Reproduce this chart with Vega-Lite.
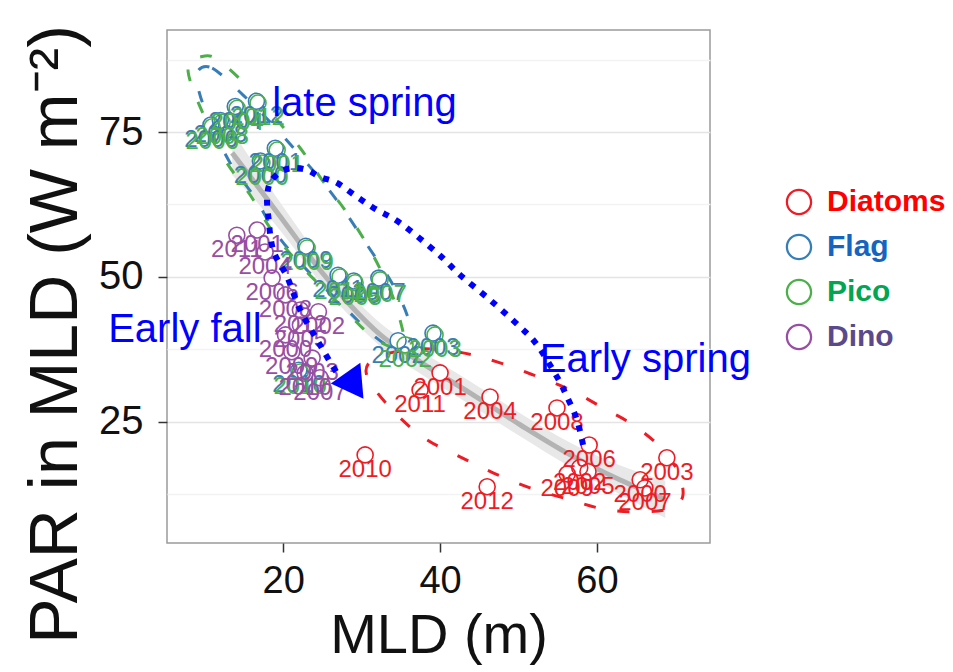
{
  "$schema": "https://vega.github.io/schema/vega-lite/v6.json",
  "autosize": {"type": "none"},
  "padding": {"left": 167, "top": 30, "right": 243, "bottom": 129},
  "width": 543,
  "height": 513,
  "background": "white",
  "config": {
    "view": {"stroke": "#9a9a9a", "strokeWidth": 1.5},
    "font": "Liberation Sans"
  },
  "datasets": {
    "pts": [
      {"group": "Diatoms", "year": "2010", "mld": 30.45, "par": 19.3},
      {"group": "Diatoms", "year": "2012", "mld": 46.0, "par": 13.8},
      {"group": "Diatoms", "year": "2001", "mld": 40.0, "par": 33.45},
      {"group": "Diatoms", "year": "2011", "mld": 37.45, "par": 30.5},
      {"group": "Diatoms", "year": "2004", "mld": 46.37, "par": 29.3},
      {"group": "Diatoms", "year": "2008", "mld": 54.9, "par": 27.4},
      {"group": "Diatoms", "year": "2006", "mld": 59.0, "par": 21.0},
      {"group": "Diatoms", "year": "2002", "mld": 57.8, "par": 17.1},
      {"group": "Diatoms", "year": "2009", "mld": 56.2, "par": 16.0},
      {"group": "Diatoms", "year": "2005", "mld": 58.85, "par": 16.4},
      {"group": "Diatoms", "year": "2003", "mld": 68.9, "par": 18.8},
      {"group": "Diatoms", "year": "2000", "mld": 65.5, "par": 15.0},
      {"group": "Diatoms", "year": "2007", "mld": 66.1, "par": 13.6},
      {"group": "Flag", "year": "2004", "mld": 13.9, "par": 79.4},
      {"group": "Flag", "year": "2008", "mld": 12.0, "par": 77.0},
      {"group": "Flag", "year": "2012", "mld": 16.6, "par": 80.3},
      {"group": "Flag", "year": "2006", "mld": 10.8, "par": 76.2},
      {"group": "Flag", "year": "2001", "mld": 19.0, "par": 72.2},
      {"group": "Flag", "year": "2000", "mld": 17.1, "par": 70.0},
      {"group": "Flag", "year": "2009", "mld": 22.9, "par": 55.3},
      {"group": "Flag", "year": "2011", "mld": 27.0, "par": 50.3},
      {"group": "Flag", "year": "2005", "mld": 29.0, "par": 49.3},
      {"group": "Flag", "year": "2007", "mld": 32.2, "par": 49.8},
      {"group": "Flag", "year": "2003", "mld": 39.1, "par": 40.3},
      {"group": "Flag", "year": "2002", "mld": 34.65, "par": 39.0},
      {"group": "Flag", "year": "2010", "mld": 22.0, "par": 33.9},
      {"group": "Pico", "year": "2004", "mld": 14.14, "par": 79.1},
      {"group": "Pico", "year": "2008", "mld": 12.23, "par": 76.7},
      {"group": "Pico", "year": "2012", "mld": 16.8, "par": 80.0},
      {"group": "Pico", "year": "2006", "mld": 10.96, "par": 75.9},
      {"group": "Pico", "year": "2001", "mld": 19.24, "par": 71.9},
      {"group": "Pico", "year": "2000", "mld": 17.3, "par": 69.66},
      {"group": "Pico", "year": "2009", "mld": 23.06, "par": 55.0},
      {"group": "Pico", "year": "2011", "mld": 27.26, "par": 50.0},
      {"group": "Pico", "year": "2005", "mld": 29.17, "par": 49.0},
      {"group": "Pico", "year": "2007", "mld": 32.36, "par": 49.5},
      {"group": "Pico", "year": "2003", "mld": 39.36, "par": 40.0},
      {"group": "Pico", "year": "2002", "mld": 35.54, "par": 38.28},
      {"group": "Pico", "year": "2010", "mld": 22.17, "par": 33.6},
      {"group": "Dino", "year": "2011", "mld": 14.1, "par": 57.2},
      {"group": "Dino", "year": "2001", "mld": 16.7, "par": 58.1},
      {"group": "Dino", "year": "2004", "mld": 17.7, "par": 54.3},
      {"group": "Dino", "year": "2006", "mld": 18.6, "par": 49.8},
      {"group": "Dino", "year": "2008", "mld": 20.3, "par": 46.9},
      {"group": "Dino", "year": "2012", "mld": 22.2, "par": 44.3},
      {"group": "Dino", "year": "2002", "mld": 24.5, "par": 44.0},
      {"group": "Dino", "year": "2005", "mld": 22.2, "par": 41.7},
      {"group": "Dino", "year": "2000", "mld": 20.3, "par": 40.0},
      {"group": "Dino", "year": "2009", "mld": 21.1, "par": 37.1},
      {"group": "Dino", "year": "2003", "mld": 23.7, "par": 36.0},
      {"group": "Dino", "year": "2010", "mld": 22.8, "par": 33.4},
      {"group": "Dino", "year": "2007", "mld": 24.7, "par": 32.6}
    ],
    "ell": [
      {"group": "Diatoms", "ord": 1, "mld": 33.63, "par": 36.9},
      {"group": "Diatoms", "ord": 2, "mld": 38.09, "par": 37.59},
      {"group": "Diatoms", "ord": 3, "mld": 42.93, "par": 36.9},
      {"group": "Diatoms", "ord": 4, "mld": 47.26, "par": 35.34},
      {"group": "Diatoms", "ord": 5, "mld": 51.85, "par": 33.1},
      {"group": "Diatoms", "ord": 6, "mld": 56.56, "par": 30.52},
      {"group": "Diatoms", "ord": 7, "mld": 60.76, "par": 27.41},
      {"group": "Diatoms", "ord": 8, "mld": 64.59, "par": 24.48},
      {"group": "Diatoms", "ord": 9, "mld": 68.03, "par": 20.69},
      {"group": "Diatoms", "ord": 10, "mld": 70.19, "par": 16.72},
      {"group": "Diatoms", "ord": 11, "mld": 70.96, "par": 12.41},
      {"group": "Diatoms", "ord": 12, "mld": 69.55, "par": 10.17},
      {"group": "Diatoms", "ord": 13, "mld": 66.11, "par": 9.48},
      {"group": "Diatoms", "ord": 14, "mld": 61.27, "par": 9.83},
      {"group": "Diatoms", "ord": 15, "mld": 56.56, "par": 11.55},
      {"group": "Diatoms", "ord": 16, "mld": 51.46, "par": 13.62},
      {"group": "Diatoms", "ord": 17, "mld": 46.75, "par": 16.21},
      {"group": "Diatoms", "ord": 18, "mld": 42.55, "par": 18.97},
      {"group": "Diatoms", "ord": 19, "mld": 38.34, "par": 21.9},
      {"group": "Diatoms", "ord": 20, "mld": 34.9, "par": 25.69},
      {"group": "Diatoms", "ord": 21, "mld": 31.72, "par": 30.52},
      {"group": "Diatoms", "ord": 22, "mld": 30.57, "par": 33.62},
      {"group": "Diatoms", "ord": 23, "mld": 31.34, "par": 35.69},
      {"group": "Flag", "ord": 1, "mld": 9.04, "par": 85.34},
      {"group": "Flag", "ord": 2, "mld": 10.96, "par": 86.03},
      {"group": "Flag", "ord": 3, "mld": 14.9, "par": 81.38},
      {"group": "Flag", "ord": 4, "mld": 18.34, "par": 76.72},
      {"group": "Flag", "ord": 5, "mld": 21.78, "par": 71.55},
      {"group": "Flag", "ord": 6, "mld": 25.35, "par": 65.86},
      {"group": "Flag", "ord": 7, "mld": 27.9, "par": 61.21},
      {"group": "Flag", "ord": 8, "mld": 30.45, "par": 56.03},
      {"group": "Flag", "ord": 9, "mld": 34.01, "par": 48.62},
      {"group": "Flag", "ord": 10, "mld": 35.92, "par": 42.93},
      {"group": "Flag", "ord": 11, "mld": 36.18, "par": 39.14},
      {"group": "Flag", "ord": 12, "mld": 34.65, "par": 37.41},
      {"group": "Flag", "ord": 13, "mld": 31.72, "par": 39.66},
      {"group": "Flag", "ord": 14, "mld": 27.9, "par": 44.66},
      {"group": "Flag", "ord": 15, "mld": 22.8, "par": 51.55},
      {"group": "Flag", "ord": 16, "mld": 18.98, "par": 57.76},
      {"group": "Flag", "ord": 17, "mld": 16.43, "par": 63.62},
      {"group": "Flag", "ord": 18, "mld": 13.25, "par": 69.66},
      {"group": "Flag", "ord": 19, "mld": 10.7, "par": 76.72},
      {"group": "Flag", "ord": 20, "mld": 9.3, "par": 81.9},
      {"group": "Pico", "ord": 1, "mld": 8.15, "par": 86.72},
      {"group": "Pico", "ord": 2, "mld": 9.43, "par": 87.93},
      {"group": "Pico", "ord": 3, "mld": 11.34, "par": 87.76},
      {"group": "Pico", "ord": 4, "mld": 14.9, "par": 83.62},
      {"group": "Pico", "ord": 5, "mld": 18.34, "par": 78.45},
      {"group": "Pico", "ord": 6, "mld": 22.17, "par": 72.24},
      {"group": "Pico", "ord": 7, "mld": 24.97, "par": 66.72},
      {"group": "Pico", "ord": 8, "mld": 28.15, "par": 61.03},
      {"group": "Pico", "ord": 9, "mld": 31.08, "par": 54.66},
      {"group": "Pico", "ord": 10, "mld": 33.63, "par": 47.76},
      {"group": "Pico", "ord": 11, "mld": 34.9, "par": 42.59},
      {"group": "Pico", "ord": 12, "mld": 35.29, "par": 39.14},
      {"group": "Pico", "ord": 13, "mld": 33.89, "par": 37.93},
      {"group": "Pico", "ord": 14, "mld": 31.08, "par": 40.0},
      {"group": "Pico", "ord": 15, "mld": 27.26, "par": 45.17},
      {"group": "Pico", "ord": 16, "mld": 22.17, "par": 52.07},
      {"group": "Pico", "ord": 17, "mld": 18.34, "par": 58.45},
      {"group": "Pico", "ord": 18, "mld": 15.8, "par": 64.14},
      {"group": "Pico", "ord": 19, "mld": 12.61, "par": 70.17},
      {"group": "Pico", "ord": 20, "mld": 10.06, "par": 77.41},
      {"group": "Pico", "ord": 21, "mld": 8.54, "par": 82.24},
      {"group": "Pico", "ord": 22, "mld": 7.9, "par": 85.34}
    ],
    "smooth": [
      {"mld": 13.5, "par": 71.4, "lo": 67.6, "hi": 75.2},
      {"mld": 17.1, "par": 65.0, "lo": 62.2, "hi": 67.8},
      {"mld": 20.9, "par": 58.1, "lo": 55.8, "hi": 60.4},
      {"mld": 24.7, "par": 51.2, "lo": 49.1, "hi": 53.3},
      {"mld": 28.5, "par": 45.2, "lo": 43.2, "hi": 47.2},
      {"mld": 32.4, "par": 40.0, "lo": 38.0, "hi": 42.0},
      {"mld": 37.5, "par": 35.3, "lo": 33.3, "hi": 37.3},
      {"mld": 43.8, "par": 30.0, "lo": 28.0, "hi": 32.0},
      {"mld": 50.2, "par": 24.5, "lo": 22.5, "hi": 26.5},
      {"mld": 56.6, "par": 19.3, "lo": 17.2, "hi": 21.4},
      {"mld": 62.9, "par": 15.0, "lo": 12.5, "hi": 17.5},
      {"mld": 68.7, "par": 11.6, "lo": 8.4, "hi": 14.8}
    ],
    "path": [
      {"ord": 1, "mld": 58.22, "par": 21.03},
      {"ord": 2, "mld": 57.45, "par": 25.34},
      {"ord": 3, "mld": 56.18, "par": 29.31},
      {"ord": 4, "mld": 54.9, "par": 32.76},
      {"ord": 5, "mld": 52.36, "par": 38.28},
      {"ord": 6, "mld": 50.19, "par": 41.38},
      {"ord": 7, "mld": 46.37, "par": 46.03},
      {"ord": 8, "mld": 42.55, "par": 50.34},
      {"ord": 9, "mld": 39.62, "par": 54.14},
      {"ord": 10, "mld": 34.9, "par": 59.31},
      {"ord": 11, "mld": 31.97, "par": 61.55},
      {"ord": 12, "mld": 29.43, "par": 63.79},
      {"ord": 13, "mld": 26.88, "par": 66.21},
      {"ord": 14, "mld": 24.71, "par": 67.24},
      {"ord": 15, "mld": 23.06, "par": 68.45},
      {"ord": 16, "mld": 21.27, "par": 68.79},
      {"ord": 17, "mld": 19.62, "par": 68.1},
      {"ord": 18, "mld": 18.34, "par": 66.21},
      {"ord": 19, "mld": 17.96, "par": 63.79},
      {"ord": 20, "mld": 18.09, "par": 60.69},
      {"ord": 21, "mld": 18.73, "par": 54.66},
      {"ord": 22, "mld": 20.51, "par": 50.0},
      {"ord": 23, "mld": 22.17, "par": 44.31},
      {"ord": 24, "mld": 24.33, "par": 39.14},
      {"ord": 25, "mld": 26.37, "par": 34.48},
      {"ord": 26, "mld": 27.52, "par": 32.24}
    ],
    "notes": [
      {"label": "late spring", "mld": 18.6, "par": 77.8},
      {"label": "Early fall", "mld": -2.3, "par": 38.8},
      {"label": "Early spring", "mld": 52.7, "par": 33.6}
    ],
    "arrow": [{"mld": 29.1, "par": 31.2}]
  },
  "encoding": {
    "x": {
      "field": "mld", "type": "quantitative",
      "scale": {"domain": [5.2, 74.4], "nice": false, "zero": false},
      "axis": {
        "values": [20, 40, 60], "title": "MLD (m)", "grid": false, "domain": false,
        "tickSize": 9, "tickWidth": 1.5, "tickColor": "#333333",
        "labelFontSize": 38, "labelColor": "#111111", "labelPadding": 10,
        "titleFontSize": 56, "titleFontWeight": "normal", "titleColor": "#111111", "titlePadding": 8
      }
    },
    "y": {
      "field": "par", "type": "quantitative",
      "scale": {"domain": [4.1, 92.6], "nice": false, "zero": false},
      "axis": {
        "values": [12.5, 25, 37.5, 50, 62.5, 75, 87.5], "title": "PAR in MLD (W m⁻²)", "grid": true,
        "gridColor": {"condition": {"test": "datum.value % 25 === 0", "value": "#e4e4e4"}, "value": "#f3f3f3"},
        "gridWidth": 1.5, "domain": false,
        "labelExpr": "datum.value % 25 === 0 ? datum.label : ''",
        "tickSize": 9, "tickWidth": 1.5,
        "tickColor": {"condition": {"test": "datum.value % 25 === 0", "value": "#333333"}, "value": "transparent"},
        "labelFontSize": 40, "labelColor": "#111111", "labelPadding": 15,
        "titleFontSize": 68, "titleFontWeight": "normal", "titleColor": "#111111", "titlePadding": 8, "titleY": 304
      }
    }
  },
  "layer": [
    {
      "data": {"name": "smooth"},
      "mark": {"type": "area", "color": "#e8e8e8", "interpolate": "monotone"},
      "encoding": {
        "y": {
          "field": "lo", "type": "quantitative",
          "scale": {"domain": [4.1, 92.6], "nice": false, "zero": false},
          "axis": {
            "values": [12.5, 25, 37.5, 50, 62.5, 75, 87.5], "title": "PAR in MLD (W m⁻²)", "grid": true,
            "gridColor": {"condition": {"test": "datum.value % 25 === 0", "value": "#e4e4e4"}, "value": "#f3f3f3"},
            "gridWidth": 1.5, "domain": false,
            "labelExpr": "datum.value % 25 === 0 ? datum.label : ''",
            "tickSize": 9, "tickWidth": 1.5,
            "tickColor": {"condition": {"test": "datum.value % 25 === 0", "value": "#333333"}, "value": "transparent"},
            "labelFontSize": 40, "labelColor": "#111111", "labelPadding": 15,
            "titleFontSize": 68, "titleFontWeight": "normal", "titleColor": "#111111", "titlePadding": 8, "titleY": 304
          }
        },
        "y2": {"field": "hi"}
      }
    },
    {
      "data": {"name": "smooth"},
      "mark": {"type": "line", "color": "#b3b3b3", "strokeWidth": 5, "interpolate": "monotone"}
    },
    {
      "data": {"name": "ell"},
      "transform": [{"filter": "datum.group === 'Diatoms'"}],
      "mark": {"type": "line", "color": "#ee1c25", "strokeWidth": 3, "strokeDash": [12, 22], "interpolate": "cardinal-closed"},
      "encoding": {"order": {"field": "ord", "type": "quantitative"}}
    },
    {
      "data": {"name": "ell"},
      "transform": [{"filter": "datum.group === 'Flag'"}],
      "mark": {"type": "line", "color": "#377eb8", "strokeWidth": 3, "strokeDash": [12, 22], "interpolate": "cardinal-closed"},
      "encoding": {"order": {"field": "ord", "type": "quantitative"}}
    },
    {
      "data": {"name": "ell"},
      "transform": [{"filter": "datum.group === 'Pico'"}],
      "mark": {"type": "line", "color": "#4daf4a", "strokeWidth": 3, "strokeDash": [12, 22], "interpolate": "cardinal-closed"},
      "encoding": {"order": {"field": "ord", "type": "quantitative"}}
    },
    {
      "data": {"name": "pts"},
      "mark": {"type": "point", "shape": "circle", "size": 256, "filled": true, "color": "white", "opacity": 1}
    },
    {
      "data": {"name": "pts"},
      "mark": {"type": "point", "shape": "circle", "size": 256, "strokeWidth": 1.6, "filled": false, "opacity": 1},
      "encoding": {
        "stroke": {
          "field": "group", "type": "nominal",
          "scale": {"domain": ["Diatoms", "Flag", "Pico", "Dino"], "range": ["#ee1c25", "#377eb8", "#4daf4a", "#984ea3"]},
          "legend": {
            "title": null, "orient": "none", "legendX": 617, "legendY": 157, "padding": 0,
            "symbolType": "M-1,0A1,1,0,1,0,1,0A1,1,0,1,0,-1,0ZM-0.83,0A0.83,0.83,0,1,1,0.83,0A0.83,0.83,0,1,1,-0.83,0Z",
            "symbolSize": 700, "symbolStrokeWidth": 0,
            "labelFontSize": 30, "labelFontWeight": "bold", "labelOffset": 13, "rowPadding": 15,
            "labelColor": {"expr": "datum.value === 'Diatoms' ? '#ff0000' : datum.value === 'Flag' ? '#1565c0' : datum.value === 'Pico' ? '#00a651' : '#5b4a8b'"}
          }
        }
      }
    },
    {
      "data": {"name": "pts"},
      "mark": {"type": "text", "fontSize": 24, "dy": 15, "baseline": "middle"},
      "encoding": {
        "text": {"field": "year"},
        "fill": {"field": "group", "type": "nominal", "scale": {"domain": ["Diatoms", "Flag", "Pico", "Dino"], "range": ["#ee1c25", "#377eb8", "#4daf4a", "#984ea3"]}, "legend": null}
      }
    },
    {
      "data": {"name": "path"},
      "mark": {"type": "line", "color": "#0000ff", "strokeWidth": 6, "strokeDash": [6, 8], "interpolate": "cardinal"},
      "encoding": {
        "order": {"field": "ord", "type": "quantitative"}
      }
    },
    {
      "data": {"name": "arrow"},
      "mark": {"type": "point", "shape": "triangle-down", "filled": true, "color": "#0000ff", "size": 1300, "angle": 325, "opacity": 1}
    },
    {
      "data": {"name": "notes"},
      "mark": {"type": "text", "fontSize": 40, "color": "#0000ff", "align": "left", "baseline": "alphabetic"},
      "encoding": {
        "text": {"field": "label"}
      }
    }
  ]
}
